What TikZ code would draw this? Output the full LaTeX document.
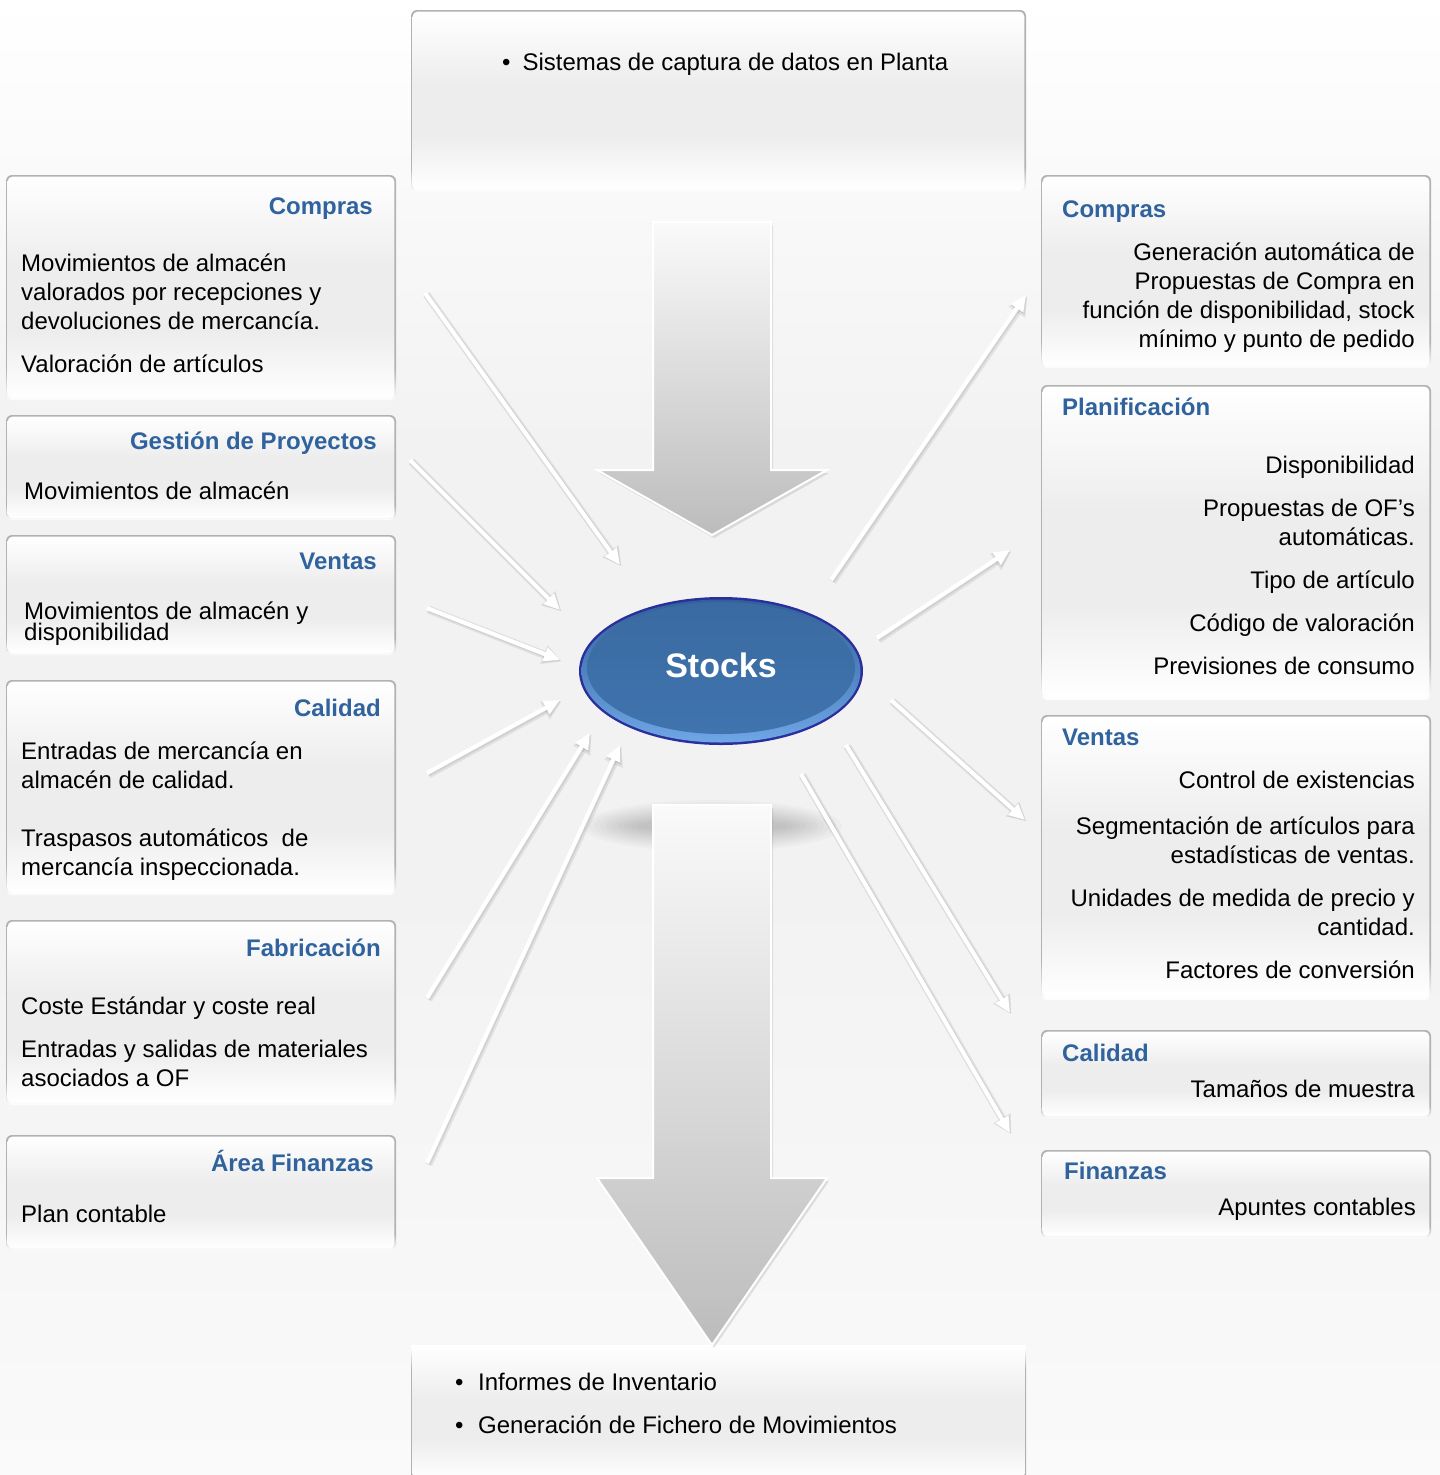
\documentclass[tikz,border=0pt]{standalone}
\usepackage{fontspec}
\setmainfont{Liberation Sans}
\usetikzlibrary{arrows.meta,calc}
\definecolor{bordc}{HTML}{B2B2B2}
\definecolor{panelg}{HTML}{EDEDED}
\definecolor{bgmid}{HTML}{F2F2F2}
\definecolor{bgbot}{HTML}{FAFAFA}
\definecolor{headblue}{RGB}{48,99,158}
\definecolor{arrtop}{HTML}{FAFAFA}
\definecolor{arrbot}{HTML}{BCBCBC}
\definecolor{stockrim}{HTML}{2A2F9C}
\definecolor{stockA}{HTML}{30609A}
\definecolor{stockHi}{HTML}{6FA6E6}
\definecolor{stockB}{HTML}{3A6AA1}
\definecolor{stockC}{HTML}{4074AE}

\pgfdeclareverticalshading{bgshade}{100bp}{color(0bp)=(bgbot); color(25bp)=(bgbot); color(45bp)=(bgmid); color(60bp)=(bgmid); color(75bp)=(white); color(100bp)=(white)}
\pgfdeclareverticalshading{borderfade}{100bp}{color(0bp)=(white); color(25bp)=(white); color(32bp)=(bordc); color(100bp)=(bordc)}
\pgfdeclareverticalshading{borderfadeup}{100bp}{color(0bp)=(bordc); color(66bp)=(bordc); color(74bp)=(white); color(100bp)=(white)}
\pgfdeclareverticalshading{panelfill}{100bp}{color(0bp)=(white); color(25bp)=(white); color(40bp)=(panelg); color(55bp)=(panelg); color(75bp)=(white); color(100bp)=(white)}

\newcommand\mypanel[4]{%
  \shade[shading=borderfade, rounded corners=6pt] (#1,#2) rectangle (#3,#4);
  \shade[shading=panelfill, rounded corners=5pt] ($(#1,#2)+(1.6,1.6)$) rectangle ($(#3,#4)+(-1.6,-1.6)$);
}
\newcommand\mystrut{\rule{0pt}{24pt}}

\begin{document}
\begin{tikzpicture}[x=1pt,y=-1pt,
  head/.style={font=\bfseries\fontsize{24}{29}\selectfont, text=headblue, inner sep=0pt},
  body/.style={font=\fontsize{24}{29}\selectfont, text=black, inner sep=0pt},
  bodyL/.style={body, align=left, anchor=north west},
  bodyR/.style={body, align=right, anchor=north east},
  flowsh/.style={draw=black, line width=8pt, opacity=0.07, -{Triangle[length=19pt,width=19pt]}},
  flowsh2/.style={draw=black, line width=5.5pt, opacity=0.07, -{Triangle[length=17pt,width=16pt]}},
  flow/.style={draw=white, line width=4.2pt, -{Triangle[length=16pt,width=14pt]}},
  bigarrow/.style={top color=arrtop, bottom color=arrbot, draw=white, line width=2pt},
  bigshadow/.style={fill=black, opacity=0.10}
]
\useasboundingbox (0,0) rectangle (1440,1475);
\shade[shading=bgshade] (0,0) rectangle (1440,1475);

% top and bottom panels
\mypanel{411}{10}{1026}{192}
\shade[shading=borderfadeup] (411,1345) rectangle (1026,1480);
\shade[shading=panelfill] (412.6,1345) rectangle (1024.4,1480);

% left panels
\mypanel{6}{175}{396}{400}
\mypanel{6}{415}{396}{520}
\mypanel{6}{535}{396}{655}
\mypanel{6}{680}{396}{895}
\mypanel{6}{920}{396}{1105}
\mypanel{6}{1135}{396}{1250}
% right panels
\mypanel{1041}{175}{1431}{368}
\mypanel{1041}{385}{1431}{700}
\mypanel{1041}{715}{1431}{1000}
\mypanel{1041}{1030}{1431}{1118}
\mypanel{1041}{1150}{1431}{1238}

% soft shadow below the ellipse
\foreach \k in {0,...,9} {
  \fill[black, opacity=0.018] (712,826) ellipse [x radius={130-6*\k}, y radius={26-2.2*\k}];
}

% big arrows
\begin{scope}[shift={(2,3)}]
\fill[bigshadow] (653,222) -- (771,222) -- (771,470) -- (827,470) -- (712,535) -- (597,470) -- (653,470) -- cycle;
\fill[bigshadow] (653,805) -- (771,805) -- (771,1178) -- (827,1178) -- (712,1345) -- (597,1178) -- (653,1178) -- cycle;
\end{scope}
\path[bigarrow] (653,222) -- (771,222) -- (771,470) -- (827,470) -- (712,535) -- (597,470) -- (653,470) -- cycle;
\path[bigarrow] (653,805) -- (771,805) -- (771,1178) -- (827,1178) -- (712,1345) -- (597,1178) -- (653,1178) -- cycle;

% Stocks ellipse
\fill[stockrim] (721,671) ellipse [x radius=142, y radius=74];
\shade[top color=stockA, bottom color=stockHi] (721,671) ellipse [x radius=139.5, y radius=71.5];
\shade[top color=stockB, bottom color=stockC] (721,668) ellipse [x radius=134, y radius=66];
\node[font=\bfseries\fontsize{34}{40}\selectfont, text=white, inner sep=0pt] (stocks) at (721,665) {Stocks};

% connector end points
\coordinate (s-l1) at (425,293);  \coordinate (e-l1) at (620,565);
\coordinate (s-l2) at (410,460);  \coordinate (e-l2) at (560,610);
\coordinate (s-l3) at (427,608);  \coordinate (e-l3) at (560,660);
\coordinate (s-l4) at (427,773);  \coordinate (e-l4) at (560,700);
\coordinate (s-l5) at (427,998);  \coordinate (e-l5) at (590,733);
\coordinate (s-l6) at (427,1163); \coordinate (e-l6) at (620,745);
\coordinate (s-r1) at (831,580);  \coordinate (e-r1) at (1026,295);
\coordinate (s-r2) at (877,638);  \coordinate (e-r2) at (1010,550);
\coordinate (s-r3) at (891,700);  \coordinate (e-r3) at (1025,820);
\coordinate (s-r4) at (846,745);  \coordinate (e-r4) at (1010,1013);
\coordinate (s-r5) at (801,774);  \coordinate (e-r5) at (1010,1133);

\foreach \n in {l1,l2,l3,l4,l5,l6,r1,r2,r3,r4,r5} {
  \draw[flowsh] ([shift={(1.5,1.5)}]s-\n) -- ([shift={(1.5,1.5)}]e-\n);
  \draw[flowsh2] ([shift={(1,1)}]s-\n) -- ([shift={(1,1)}]e-\n);
}
\foreach \n in {l1,l2,l3,l4,l5,l6,r1,r2,r3,r4,r5} {
  \draw[flow] (s-\n) -- (e-\n);
}

% top / bottom texts
\node[body, anchor=base west] (top) at (502,70) {\textbullet\hspace{12pt}Sistemas de captura de datos en Planta};
\node[bodyL] (bottom) at (455,1366) {\mystrut\textbullet\hspace{14.6pt}Informes de Inventario\\[14pt]\textbullet\hspace{14.6pt}Generación de Fichero de Movimientos};

% left column texts
\node[head, anchor=base east] (hl1) at (373,214) {Compras};
\node[bodyL] (bl1) at (21,247) {\mystrut Movimientos de almacén\\valorados por recepciones y\\devoluciones de mercancía.\\[14pt]Valoración de artículos};

\node[head, anchor=base east] (hl2) at (377,449) {Gestión de Proyectos};
\node[bodyL] (bl2) at (24,475) {\mystrut Movimientos de almacén};

\node[head, anchor=base east] (hl3) at (377,569) {Ventas};
\node[bodyL, font={\fontsize{24}{21}\selectfont\lineskiplimit=-30pt}] (bl3) at (24,595) {\mystrut Movimientos de almacén y\\disponibilidad};

\node[head, anchor=base east] (hl4) at (381,716) {Calidad};
\node[bodyL] (bl4) at (21,735) {\mystrut Entradas de mercancía en\\almacén de calidad.\\[29pt]Traspasos automáticos\ \ de\\mercancía inspeccionada.};

\node[head, anchor=base east] (hl5) at (381,956) {Fabricación};
\node[bodyL] (bl5) at (21,990) {\mystrut Coste Estándar y coste real\\[14pt]Entradas y salidas de materiales\\asociados a OF};

\node[head, anchor=base east] (hl6) at (374,1171) {Área Finanzas};
\node[bodyL] (bl6) at (21,1198) {\mystrut Plan contable};

% right column texts
\node[head, anchor=base west] (hr1) at (1062,217) {Compras};
\node[bodyR] (br1) at (1415,236) {\mystrut Generación automática de\\Propuestas de Compra en\\función de disponibilidad, stock\\mínimo y punto de pedido};

\node[head, anchor=base west] (hr2) at (1062,415) {Planificación};
\node[bodyR] (br2) at (1415,449) {\mystrut Disponibilidad\\[14pt]Propuestas de OF’s\\automáticas.\\[14pt]Tipo de artículo\\[14pt]Código de valoración\\[14pt]Previsiones de consumo};

\node[head, anchor=base west] (hr3) at (1062,745) {Ventas};
\node[bodyR] (br3) at (1415,764) {\mystrut Control de existencias\\[17pt]Segmentación de artículos para\\estadísticas de ventas.\\[14pt]Unidades de medida de precio y\\cantidad.\\[14pt]Factores de conversión};

\node[head, anchor=base west] (hr4) at (1062,1061) {Calidad};
\node[bodyR] (br4) at (1415,1073) {\mystrut Tamaños de muestra};

\node[head, anchor=base west] (hr5) at (1064,1179) {Finanzas};
\node[bodyR] (br5) at (1416,1191) {\mystrut Apuntes contables};
\end{tikzpicture}
\end{document}
